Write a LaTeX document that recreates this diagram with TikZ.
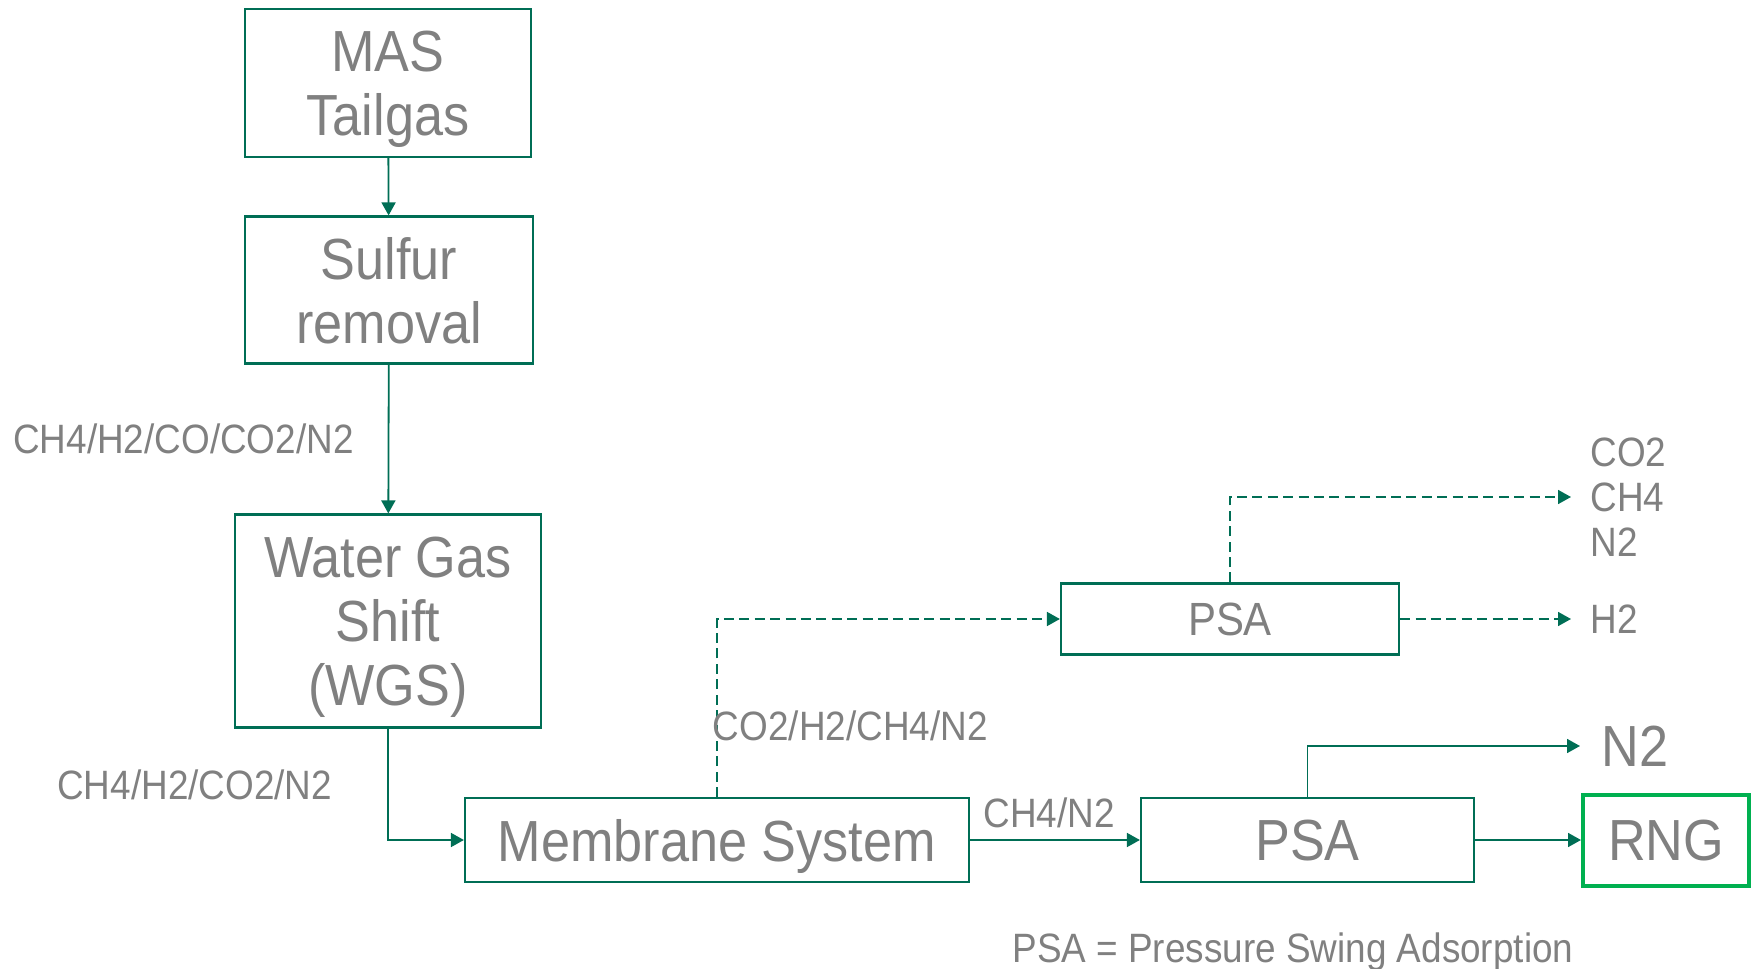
\documentclass[tikz,border=0pt]{standalone}
\usepackage{fontspec}
\setmainfont[FakeStretch=0.9]{Liberation Sans}
\usetikzlibrary{arrows.meta}

\definecolor{pipegreen}{RGB}{0,110,85}
\definecolor{textgrey}{RGB}{128,128,128}
\definecolor{rnggreen}{RGB}{0,176,80}

\begin{document}
\begin{tikzpicture}[x=0.5pt,y=-0.5pt,
    unit/.style={draw=pipegreen,line width=1.1pt,text=textgrey,inner sep=0pt,text depth=0pt,align=center,font=\fontsize{29}{32}\selectfont},
    flow/.style={draw=pipegreen,line width=0.9pt,-{Triangle[length=6.5pt,width=7pt]}},
    bleed/.style={flow,dash pattern=on 5pt off 2.7pt},
    label/.style={text=textgrey,inner sep=0pt,text depth=0pt,font=\fontsize{20.5}{22.5}\selectfont}]
      \useasboundingbox (0,0) rectangle (1753,969);

      \node[unit,minimum width=143pt,minimum height=74pt] (mas) at (388,83) {MAS\\Tailgas};
      \node[unit,minimum width=144pt,minimum height=73.5pt] (sulfur) at (389,290) {Sulfur\\removal};
      \node[unit,minimum width=153pt,minimum height=106.5pt] (wgs) at (388,621) {Water Gas\\Shift\\(WGS)};
      \node[unit,minimum width=252pt,minimum height=42pt] (membrane) at (717,840) {Membrane System};
      \node[unit,minimum width=169pt,minimum height=35.5pt,font=\fontsize{23.3}{26}\selectfont] (psaone) at (1230,619) {PSA};
      \node[unit,minimum width=166.5pt,minimum height=42pt] (psatwo) at (1307.5,840) {PSA};
      \node[unit,draw=rnggreen,line width=2pt,minimum width=83pt,minimum height=45.5pt] (rng) at (1666,840) {RNG};

      \node[label,anchor=west,align=left] (offgas) at (1590,497) {CO2\\CH4\\N2};
      \node[label,anchor=west] (hydrogen) at (1590,619) {H2};
      \node[label,anchor=west,font=\fontsize{29}{32}\selectfont] (nitrogen) at (1601,746) {N2};
      \node[label,anchor=west] (legend) at (1012,948) {PSA = Pressure Swing Adsorption};

      \draw[flow] (mas) -- (sulfur);
      \draw[flow] (sulfur) -- (wgs) node[label,midway,left=17pt] {CH4/H2/CO/CO2/N2};
      \draw[flow] (wgs) |- (membrane) node[label,pos=0.25,left=27.5pt] {CH4/H2/CO2/N2};
      \draw[bleed] (membrane) |- (psaone) node[label,pos=0.2,anchor=west,xshift=-2.5pt] {CO2/H2/CH4/N2};
      \draw[bleed,shorten >=9.5pt] (psaone) |- (offgas);
      \draw[bleed,shorten >=9.5pt] (psaone) -- (hydrogen);
      \draw[flow] (membrane) -- (psatwo) node[label,midway,above=6pt,xshift=-3pt] {CH4/N2};
      \draw[flow,shorten >=10.5pt] (psatwo) |- (nitrogen);
      \draw[flow] (psatwo) -- (rng);
    \end{tikzpicture}
\end{document}
